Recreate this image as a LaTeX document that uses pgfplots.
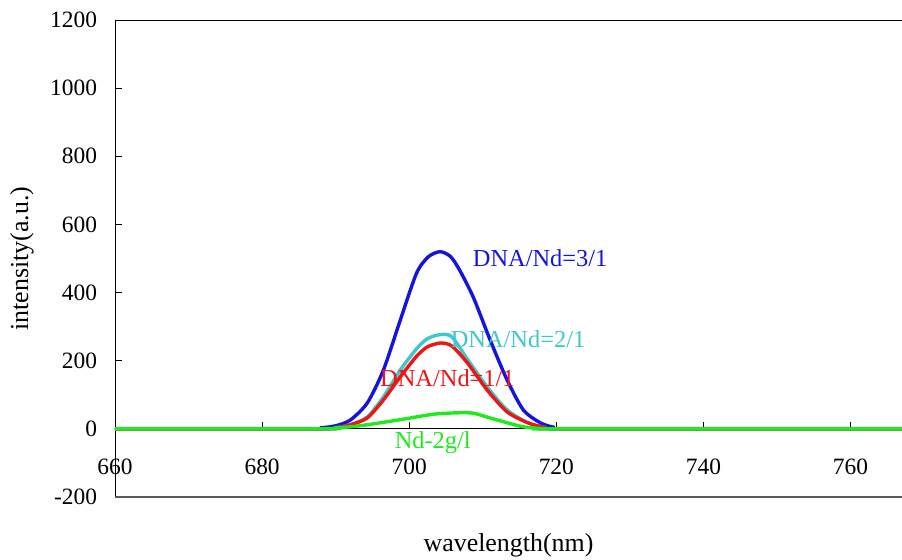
\documentclass[border=0pt]{standalone}
\usepackage{fontspec}
\setmainfont{Liberation Serif}
\usepackage{pgfplots}
\pgfplotsset{compat=1.18}
\definecolor{cblue}{RGB}{20,20,225}
\definecolor{ccyan}{RGB}{60,200,205}
\definecolor{cred}{RGB}{240,20,20}
\definecolor{cgreen}{RGB}{30,235,30}
\begin{document}
\fontsize{23.5}{28}\selectfont
\begin{tikzpicture}
\begin{axis}[
  name=ax,
  scale only axis,
  width=787bp, height=477bp,
  xmin=660, xmax=767, ymin=-200, ymax=1200,
  axis y line=left,
  axis x line=middle,
  axis line style={-, line width=0.8bp},
  hide obscured x ticks=false,
  xtick={660,680,700,720,740,760},
  ytick={-200,0,200,400,600,800,1000,1200},
  tick align=inside,
  major tick length=7bp,
  tick style={black, line width=0.6bp},
  /pgf/number format/assume math mode=true,
  /pgf/number format/set thousands separator={},
  xticklabel style={anchor=north, yshift=-22bp},
  yticklabel style={xshift=-10bp},
  every axis plot/.append style={line width=3.4bp, smooth, tension=0.45},
  clip=false,
]
\addplot[cblue] coordinates {(660,0) (686,0) (688,3) (690,9) (692,26) (694.3,76) (696.5,173) (698.8,320) (701.0,457) (702.6,505) (704.2,520) (705.6,506) (706.8,468) (708.7,387) (711,261) (713.3,144) (715.5,56) (717.8,18) (719.6,5) (722,0) (767,0)};
\addplot[ccyan] coordinates {(660,0) (688,0) (690,3) (692,12) (694.3,35) (696.5,94) (698.8,173) (701,235) (702.5,265) (704.3,277) (705.8,270) (707.9,205) (710.6,123) (713.3,56) (716.1,18) (718.5,4) (721,0) (767,0)};
\addplot[cred] coordinates {(660,0) (688,0) (690,3) (692,12) (694.3,32) (696.5,85) (698.8,153) (701,213) (702.5,241) (704.3,252) (705.8,243) (707.9,194) (710.6,114) (713.3,50) (716.1,18) (718.5,4) (721,0) (767,0)};
\addplot[cgreen] coordinates {(660,0) (688,0) (690,3) (692,6) (694.3,12) (698.8,27) (703.3,43) (706.5,47) (708.7,46) (711,32) (713.3,18) (715.5,6) (717.8,1) (720,0) (767,0)};
\draw[black, line width=0.8bp] (rel axis cs:0,1) -- (rel axis cs:1,1);
\draw[black!65, line width=1.4bp] (rel axis cs:0,0) -- (rel axis cs:1,0);
\begin{scope}[font=\fontsize{24.5}{29}\selectfont]
\node[cblue] at (axis cs:717.8,500) {DNA/Nd=3/1};
\node[ccyan] at (axis cs:714.8,262) {DNA/Nd=2/1};
\node[cred] at (axis cs:705.2,150) {DNA/Nd=1/1};
\node[cgreen] at (axis cs:703.2,-41) {Nd-2g/l};
\end{scope}
\end{axis}
\node[font=\fontsize{26}{31}\selectfont] at ([yshift=-48bp]ax.south) {wavelength(nm)};
\node[rotate=90, font=\fontsize{26}{31}\selectfont] at ([xshift=-93bp]ax.west) {intensity(a.u.)};
\pgfresetboundingbox
\path ([xshift=-115bp,yshift=-63bp]ax.south west) rectangle ([yshift=20bp]ax.north east);
\end{tikzpicture}
\end{document}
